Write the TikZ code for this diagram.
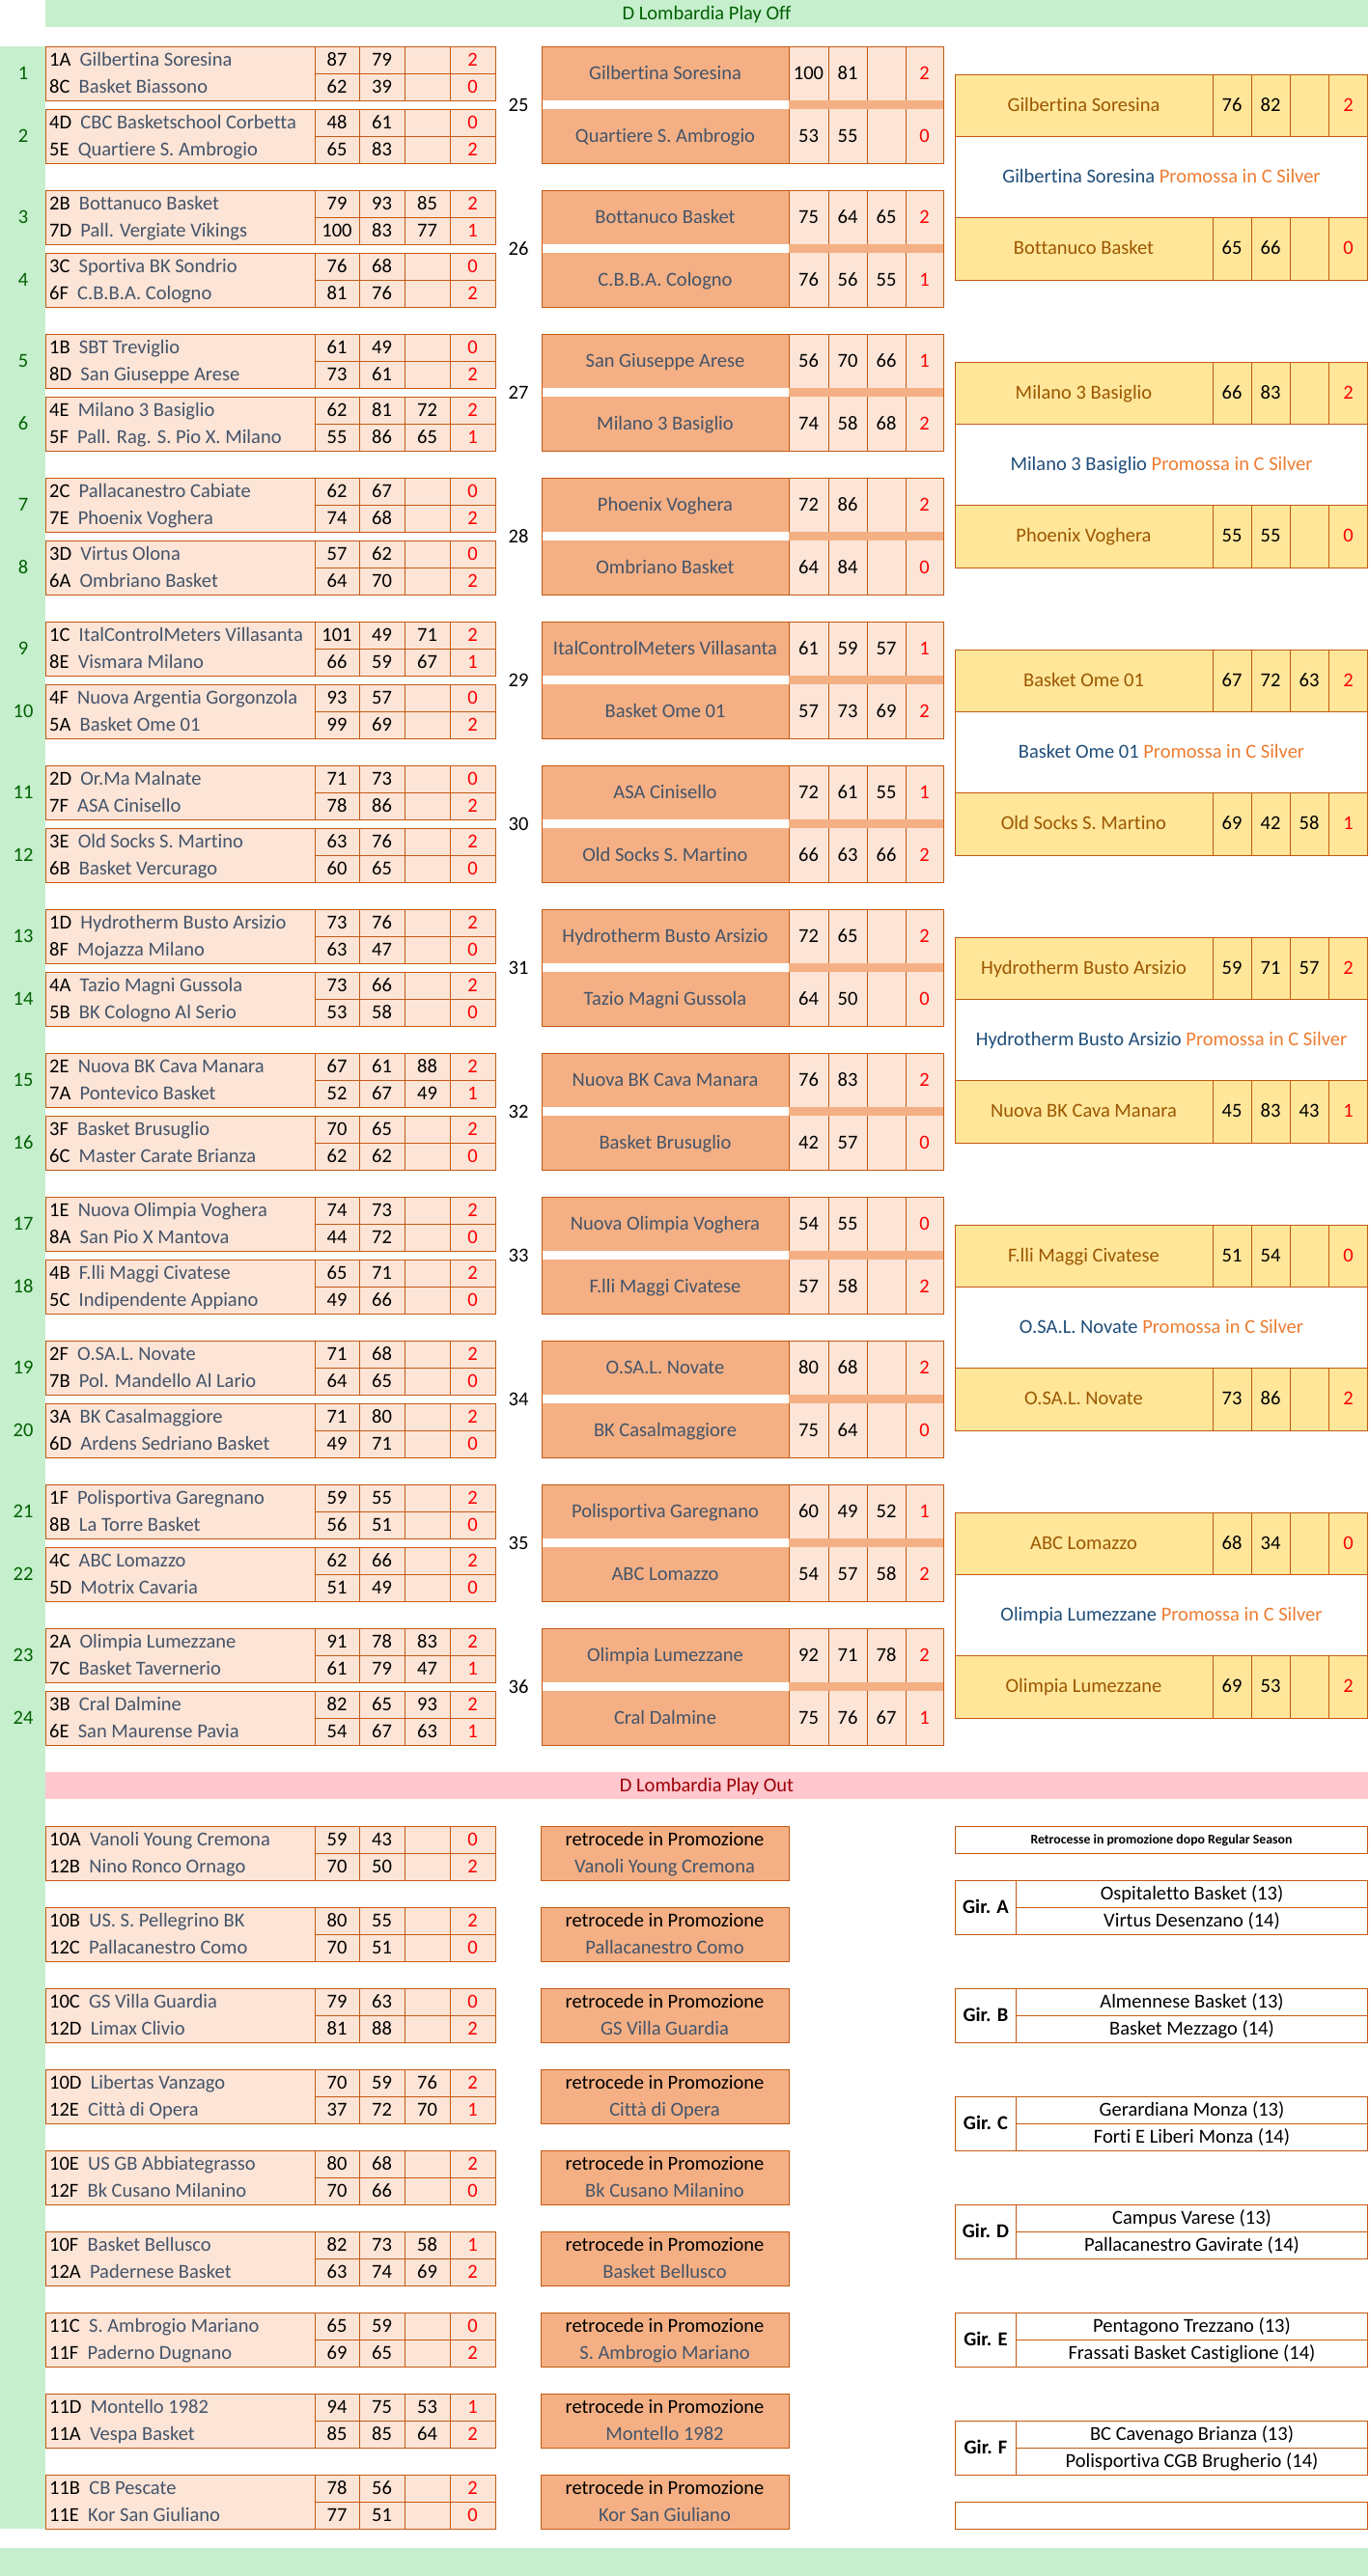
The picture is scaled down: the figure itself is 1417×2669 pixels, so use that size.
\documentclass[tikz,border=0pt]{standalone}
\usepackage{fontspec}
\setmainfont{Carlito}[Ligatures=CommonOff]
\definecolor{gfill}{HTML}{C6EFCE}
\definecolor{gtext}{HTML}{006100}
\definecolor{pfill}{HTML}{FFC7CE}
\definecolor{ptext}{HTML}{9C0006}
\definecolor{lor}{HTML}{FCE4D6}
\definecolor{mor}{HTML}{F4B084}
\definecolor{bord}{HTML}{C65911}
\definecolor{yel}{HTML}{FFE699}
\definecolor{yeltext}{HTML}{9C5700}
\definecolor{team}{HTML}{44546A}
\definecolor{promteam}{HTML}{1F4E79}
\definecolor{promo}{HTML}{ED7D31}
\definecolor{winred}{HTML}{FF0000}
\tikzset{
 txt/.style={inner sep=0pt, text height=13pt, text depth=0pt, font=\fontsize{20.5}{24}\selectfont},
 boldtxt/.style={txt, font=\bfseries\fontsize{20.5}{24}\selectfont},
 smallbold/.style={inner sep=0pt, text height=9.5pt, text depth=0pt, font=\bfseries\fontsize{13.8}{16}\selectfont},
 bline/.style={draw=bord, line width=1pt},
}
% first round / play out frame
\newcommand\frframe[2]{%
 \fill[lor] (47,#2) rectangle (513,#2+56);
 \draw[bline] (47,#2) rectangle (513,#2+56);
 \foreach \xx in {326,372,419,466} {\draw[bline] (\xx,#2) -- (\xx,#2+56);}
 \draw[bline] (326,#2+28) -- (513,#2+28);
}
\newcommand\frlabel[3]{\node[txt,text=gtext] (#1lab) at (24,#2+28) {#3};}
\newcommand\frrowat[8]{%
 \node[txt,anchor=west] (#1n) at (51,#2) {#3\hspace{0.45em}\textcolor{team}{#4}};
 \node[txt] (#1a) at (349,#2) {#5};
 \node[txt] (#1b) at (395.5,#2) {#6};
 \node[txt] (#1c) at (442.5,#2) {#7};
 \node[txt,text=winred] (#1w) at (489.5,#2) {#8};
}
\newcommand\frtop[8]{\frrowat{#1t}{#2+14}{#3}{#4}{#5}{#6}{#7}{#8}}
\newcommand\frbot[8]{\frrowat{#1b}{#2+42}{#3}{#4}{#5}{#6}{#7}{#8}}
% second round
\newcommand\mdframe[3]{%
 \fill[mor] (561,#2) rectangle (817,#2+56);
 \fill[mor] (561,#2+65) rectangle (817,#2+121);
 \fill[lor] (817,#2) rectangle (977,#2+121);
 \fill[mor] (817,#2+56) rectangle (977,#2+65);
 \draw[bline] (561,#2) rectangle (977,#2+121);
 \draw[bline] (817,#2) -- (817,#2+56) (817,#2+65) -- (817,#2+121);
 \foreach \xx in {858,898,938} {\draw[bline] (\xx,#2) -- (\xx,#2+56) (\xx,#2+65) -- (\xx,#2+121);}
 \node[txt] (#1lab) at (537,#2+60.5) {#3};
}
\newcommand\mdrow[7]{%
 \node[txt,text=team] (#1n) at (689,#2) {#3};
 \node[txt] (#1a) at (837.5,#2) {#4};
 \node[txt] (#1b) at (878,#2) {#5};
 \node[txt] (#1c) at (918,#2) {#6};
 \node[txt,text=winred] (#1w) at (957.5,#2) {#7};
}
% final
\newcommand\fnframe[3]{%
 \fill[yel] (989,#2) rectangle (1416.5,#2+64);
 \fill[yel] (989,#2+148) rectangle (1416.5,#2+213);
 \draw[bline] (989,#2) rectangle (1416.5,#2+213);
 \draw[bline] (989,#2+64) -- (1416.5,#2+64) (989,#2+148) -- (1416.5,#2+148);
 \foreach \xx in {1256,1296,1336,1376} {\draw[bline] (\xx,#2) -- (\xx,#2+64) (\xx,#2+148) -- (\xx,#2+213);}
 \node[txt] (#1p) at (1203,#2+106) {\textcolor{promteam}{#3} \textcolor{promo}{Promossa in C Silver}};
}
\newcommand\fnrow[7]{%
 \node[txt,text=yeltext] (#1n) at (1122.5,#2) {#3};
 \node[txt] (#1a) at (1276,#2) {#4};
 \node[txt] (#1b) at (1316,#2) {#5};
 \node[txt] (#1c) at (1356,#2) {#6};
 \node[txt,text=winred] (#1w) at (1396.5,#2) {#7};
}
% play out
\newcommand\rtbox[3]{%
 \fill[mor] (560,#2) rectangle (817,#2+56);
 \draw[bline] (560,#2) rectangle (817,#2+56);
 \node[txt] (#1r) at (688.5,#2+14) {retrocede in Promozione};
 \node[txt,text=team] (#1t) at (688.5,#2+42) {#3};
}
\newcommand\girbox[5]{%
 \draw[bline] (989,#2) rectangle (1416.5,#2+56);
 \draw[bline] (1052.5,#2) -- (1052.5,#2+56);
 \draw[bline] (1052.5,#2+28) -- (1416.5,#2+28);
 \node[boldtxt] (#1g) at (1021,#2+28) {Gir. #3};
 \node[txt] (#1a) at (1234.5,#2+14) {#4};
 \node[txt] (#1b) at (1234.5,#2+42) {#5};
}
\begin{document}
\begin{tikzpicture}[x=1pt,y=-1pt]
\useasboundingbox (0,0) rectangle (1417,2669);
\fill[white] (0,0) rectangle (1417,2669);
% bands
\fill[gfill] (47,0) rectangle (1417,28);
\node[txt,text=gtext] (hoff) at (732,14) {D Lombardia Play Off};
\fill[gfill] (0,48) rectangle (47,2620);
\fill[pfill] (47,1836) rectangle (1417,1864);
\node[txt,text=ptext] (hout) at (732,1850) {D Lombardia Play Out};
\fill[gfill] (0,2640) rectangle (1417,2669);

% ---------- first round ----------
\frframe{m1}{48}\frlabel{m1}{48}{1}
\frtop{m1}{48}{1A}{Gilbertina Soresina}{87}{79}{}{2}
\frbot{m1}{48}{8C}{Basket Biassono}{62}{39}{}{0}
\frframe{m2}{113}\frlabel{m2}{113}{2}
\frtop{m2}{113}{4D}{CBC Basketschool Corbetta}{48}{61}{}{0}
\frbot{m2}{113}{5E}{Quartiere S. Ambrogio}{65}{83}{}{2}
\frframe{m3}{197}\frlabel{m3}{197}{3}
\frtop{m3}{197}{2B}{Bottanuco Basket}{79}{93}{85}{2}
\frbot{m3}{197}{7D}{Pall. Vergiate Vikings}{100}{83}{77}{1}
\frframe{m4}{262}\frlabel{m4}{262}{4}
\frtop{m4}{262}{3C}{Sportiva BK Sondrio}{76}{68}{}{0}
\frbot{m4}{262}{6F}{C.B.B.A. Cologno}{81}{76}{}{2}
\frframe{m5}{346}\frlabel{m5}{346}{5}
\frtop{m5}{346}{1B}{SBT Treviglio}{61}{49}{}{0}
\frbot{m5}{346}{8D}{San Giuseppe Arese}{73}{61}{}{2}
\frframe{m6}{411}\frlabel{m6}{411}{6}
\frtop{m6}{411}{4E}{Milano 3 Basiglio}{62}{81}{72}{2}
\frbot{m6}{411}{5F}{Pall. Rag. S. Pio X. Milano}{55}{86}{65}{1}
\frframe{m7}{495}\frlabel{m7}{495}{7}
\frtop{m7}{495}{2C}{Pallacanestro Cabiate}{62}{67}{}{0}
\frbot{m7}{495}{7E}{Phoenix Voghera}{74}{68}{}{2}
\frframe{m8}{560}\frlabel{m8}{560}{8}
\frtop{m8}{560}{3D}{Virtus Olona}{57}{62}{}{0}
\frbot{m8}{560}{6A}{Ombriano Basket}{64}{70}{}{2}
\frframe{m9}{644}\frlabel{m9}{644}{9}
\frtop{m9}{644}{1C}{ItalControlMeters Villasanta}{101}{49}{71}{2}
\frbot{m9}{644}{8E}{Vismara Milano}{66}{59}{67}{1}
\frframe{m10}{709}\frlabel{m10}{709}{10}
\frtop{m10}{709}{4F}{Nuova Argentia Gorgonzola}{93}{57}{}{0}
\frbot{m10}{709}{5A}{Basket Ome 01}{99}{69}{}{2}
\frframe{m11}{793}\frlabel{m11}{793}{11}
\frtop{m11}{793}{2D}{Or.Ma Malnate}{71}{73}{}{0}
\frbot{m11}{793}{7F}{ASA Cinisello}{78}{86}{}{2}
\frframe{m12}{858}\frlabel{m12}{858}{12}
\frtop{m12}{858}{3E}{Old Socks S. Martino}{63}{76}{}{2}
\frbot{m12}{858}{6B}{Basket Vercurago}{60}{65}{}{0}
\frframe{m13}{942}\frlabel{m13}{942}{13}
\frtop{m13}{942}{1D}{Hydrotherm Busto Arsizio}{73}{76}{}{2}
\frbot{m13}{942}{8F}{Mojazza Milano}{63}{47}{}{0}
\frframe{m14}{1007}\frlabel{m14}{1007}{14}
\frtop{m14}{1007}{4A}{Tazio Magni Gussola}{73}{66}{}{2}
\frbot{m14}{1007}{5B}{BK Cologno Al Serio}{53}{58}{}{0}
\frframe{m15}{1091}\frlabel{m15}{1091}{15}
\frtop{m15}{1091}{2E}{Nuova BK Cava Manara}{67}{61}{88}{2}
\frbot{m15}{1091}{7A}{Pontevico Basket}{52}{67}{49}{1}
\frframe{m16}{1156}\frlabel{m16}{1156}{16}
\frtop{m16}{1156}{3F}{Basket Brusuglio}{70}{65}{}{2}
\frbot{m16}{1156}{6C}{Master Carate Brianza}{62}{62}{}{0}
\frframe{m17}{1240}\frlabel{m17}{1240}{17}
\frtop{m17}{1240}{1E}{Nuova Olimpia Voghera}{74}{73}{}{2}
\frbot{m17}{1240}{8A}{San Pio X Mantova}{44}{72}{}{0}
\frframe{m18}{1305}\frlabel{m18}{1305}{18}
\frtop{m18}{1305}{4B}{F.lli Maggi Civatese}{65}{71}{}{2}
\frbot{m18}{1305}{5C}{Indipendente Appiano}{49}{66}{}{0}
\frframe{m19}{1389}\frlabel{m19}{1389}{19}
\frtop{m19}{1389}{2F}{O.SA.L. Novate}{71}{68}{}{2}
\frbot{m19}{1389}{7B}{Pol. Mandello Al Lario}{64}{65}{}{0}
\frframe{m20}{1454}\frlabel{m20}{1454}{20}
\frtop{m20}{1454}{3A}{BK Casalmaggiore}{71}{80}{}{2}
\frbot{m20}{1454}{6D}{Ardens Sedriano Basket}{49}{71}{}{0}
\frframe{m21}{1538}\frlabel{m21}{1538}{21}
\frtop{m21}{1538}{1F}{Polisportiva Garegnano}{59}{55}{}{2}
\frbot{m21}{1538}{8B}{La Torre Basket}{56}{51}{}{0}
\frframe{m22}{1603}\frlabel{m22}{1603}{22}
\frtop{m22}{1603}{4C}{ABC Lomazzo}{62}{66}{}{2}
\frbot{m22}{1603}{5D}{Motrix Cavaria}{51}{49}{}{0}
\frframe{m23}{1687}\frlabel{m23}{1687}{23}
\frtop{m23}{1687}{2A}{Olimpia Lumezzane}{91}{78}{83}{2}
\frbot{m23}{1687}{7C}{Basket Tavernerio}{61}{79}{47}{1}
\frframe{m24}{1752}\frlabel{m24}{1752}{24}
\frtop{m24}{1752}{3B}{Cral Dalmine}{82}{65}{93}{2}
\frbot{m24}{1752}{6E}{San Maurense Pavia}{54}{67}{63}{1}

% ---------- second round ----------
\mdframe{s25}{48}{25}
\mdrow{s25t}{48+28}{Gilbertina Soresina}{100}{81}{}{2}
\mdrow{s25b}{48+93}{Quartiere S. Ambrogio}{53}{55}{}{0}
\mdframe{s26}{197}{26}
\mdrow{s26t}{197+28}{Bottanuco Basket}{75}{64}{65}{2}
\mdrow{s26b}{197+93}{C.B.B.A. Cologno}{76}{56}{55}{1}
\mdframe{s27}{346}{27}
\mdrow{s27t}{346+28}{San Giuseppe Arese}{56}{70}{66}{1}
\mdrow{s27b}{346+93}{Milano 3 Basiglio}{74}{58}{68}{2}
\mdframe{s28}{495}{28}
\mdrow{s28t}{495+28}{Phoenix Voghera}{72}{86}{}{2}
\mdrow{s28b}{495+93}{Ombriano Basket}{64}{84}{}{0}
\mdframe{s29}{644}{29}
\mdrow{s29t}{644+28}{ItalControlMeters Villasanta}{61}{59}{57}{1}
\mdrow{s29b}{644+93}{Basket Ome 01}{57}{73}{69}{2}
\mdframe{s30}{793}{30}
\mdrow{s30t}{793+28}{ASA Cinisello}{72}{61}{55}{1}
\mdrow{s30b}{793+93}{Old Socks S. Martino}{66}{63}{66}{2}
\mdframe{s31}{942}{31}
\mdrow{s31t}{942+28}{Hydrotherm Busto Arsizio}{72}{65}{}{2}
\mdrow{s31b}{942+93}{Tazio Magni Gussola}{64}{50}{}{0}
\mdframe{s32}{1091}{32}
\mdrow{s32t}{1091+28}{Nuova BK Cava Manara}{76}{83}{}{2}
\mdrow{s32b}{1091+93}{Basket Brusuglio}{42}{57}{}{0}
\mdframe{s33}{1240}{33}
\mdrow{s33t}{1240+28}{Nuova Olimpia Voghera}{54}{55}{}{0}
\mdrow{s33b}{1240+93}{F.lli Maggi Civatese}{57}{58}{}{2}
\mdframe{s34}{1389}{34}
\mdrow{s34t}{1389+28}{O.SA.L. Novate}{80}{68}{}{2}
\mdrow{s34b}{1389+93}{BK Casalmaggiore}{75}{64}{}{0}
\mdframe{s35}{1538}{35}
\mdrow{s35t}{1538+28}{Polisportiva Garegnano}{60}{49}{52}{1}
\mdrow{s35b}{1538+93}{ABC Lomazzo}{54}{57}{58}{2}
\mdframe{s36}{1687}{36}
\mdrow{s36t}{1687+28}{Olimpia Lumezzane}{92}{71}{78}{2}
\mdrow{s36b}{1687+93}{Cral Dalmine}{75}{76}{67}{1}

% ---------- finals ----------
\fnframe{f1}{77}{Gilbertina Soresina}
\fnrow{f1t}{77+32}{Gilbertina Soresina}{76}{82}{}{2}
\fnrow{f1b}{77+180}{Bottanuco Basket}{65}{66}{}{0}
\fnframe{f2}{375}{Milano 3 Basiglio}
\fnrow{f2t}{375+32}{Milano 3 Basiglio}{66}{83}{}{2}
\fnrow{f2b}{375+180}{Phoenix Voghera}{55}{55}{}{0}
\fnframe{f3}{673}{Basket Ome 01}
\fnrow{f3t}{673+32}{Basket Ome 01}{67}{72}{63}{2}
\fnrow{f3b}{673+180}{Old Socks S. Martino}{69}{42}{58}{1}
\fnframe{f4}{971}{Hydrotherm Busto Arsizio}
\fnrow{f4t}{971+32}{Hydrotherm Busto Arsizio}{59}{71}{57}{2}
\fnrow{f4b}{971+180}{Nuova BK Cava Manara}{45}{83}{43}{1}
\fnframe{f5}{1269}{O.SA.L. Novate}
\fnrow{f5t}{1269+32}{F.lli Maggi Civatese}{51}{54}{}{0}
\fnrow{f5b}{1269+180}{O.SA.L. Novate}{73}{86}{}{2}
\fnframe{f6}{1567}{Olimpia Lumezzane}
\fnrow{f6t}{1567+32}{ABC Lomazzo}{68}{34}{}{0}
\fnrow{f6b}{1567+180}{Olimpia Lumezzane}{69}{53}{}{2}

% ---------- play out ----------
\frframe{p1}{1892}
\frtop{p1}{1892}{10A}{Vanoli Young Cremona}{59}{43}{}{0}
\frbot{p1}{1892}{12B}{Nino Ronco Ornago}{70}{50}{}{2}
\rtbox{r1}{1892}{Vanoli Young Cremona}
\frframe{p2}{1976}
\frtop{p2}{1976}{10B}{US. S. Pellegrino BK}{80}{55}{}{2}
\frbot{p2}{1976}{12C}{Pallacanestro Como}{70}{51}{}{0}
\rtbox{r2}{1976}{Pallacanestro Como}
\frframe{p3}{2060}
\frtop{p3}{2060}{10C}{GS Villa Guardia}{79}{63}{}{0}
\frbot{p3}{2060}{12D}{Limax Clivio}{81}{88}{}{2}
\rtbox{r3}{2060}{GS Villa Guardia}
\frframe{p4}{2144}
\frtop{p4}{2144}{10D}{Libertas Vanzago}{70}{59}{76}{2}
\frbot{p4}{2144}{12E}{Città di Opera}{37}{72}{70}{1}
\rtbox{r4}{2144}{Città di Opera}
\frframe{p5}{2228}
\frtop{p5}{2228}{10E}{US GB Abbiategrasso}{80}{68}{}{2}
\frbot{p5}{2228}{12F}{Bk Cusano Milanino}{70}{66}{}{0}
\rtbox{r5}{2228}{Bk Cusano Milanino}
\frframe{p6}{2312}
\frtop{p6}{2312}{10F}{Basket Bellusco}{82}{73}{58}{1}
\frbot{p6}{2312}{12A}{Padernese Basket}{63}{74}{69}{2}
\rtbox{r6}{2312}{Basket Bellusco}
\frframe{p7}{2396}
\frtop{p7}{2396}{11C}{S. Ambrogio Mariano}{65}{59}{}{0}
\frbot{p7}{2396}{11F}{Paderno Dugnano}{69}{65}{}{2}
\rtbox{r7}{2396}{S. Ambrogio Mariano}
\frframe{p8}{2480}
\frtop{p8}{2480}{11D}{Montello 1982}{94}{75}{53}{1}
\frbot{p8}{2480}{11A}{Vespa Basket}{85}{85}{64}{2}
\rtbox{r8}{2480}{Montello 1982}
\frframe{p9}{2564}
\frtop{p9}{2564}{11B}{CB Pescate}{78}{56}{}{2}
\frbot{p9}{2564}{11E}{Kor San Giuliano}{77}{51}{}{0}
\rtbox{r9}{2564}{Kor San Giuliano}

% ---------- relegated after regular season ----------
\draw[bline] (989,1892) rectangle (1416.5,1920);
\node[smallbold] (rettitle) at (1203,1906) {Retrocesse in promozione dopo Regular Season};
\girbox{ga}{1948}{A}{Ospitaletto Basket (13)}{Virtus Desenzano (14)}
\girbox{gb}{2060}{B}{Almennese Basket (13)}{Basket Mezzago (14)}
\girbox{gc}{2172}{C}{Gerardiana Monza (13)}{Forti E Liberi Monza (14)}
\girbox{gd}{2284}{D}{Campus Varese (13)}{Pallacanestro Gavirate (14)}
\girbox{ge}{2396}{E}{Pentagono Trezzano (13)}{Frassati Basket Castiglione (14)}
\girbox{gf}{2508}{F}{BC Cavenago Brianza (13)}{Polisportiva CGB Brugherio (14)}
\draw[bline] (989,2592) rectangle (1416.5,2620);
\end{tikzpicture}
\end{document}
